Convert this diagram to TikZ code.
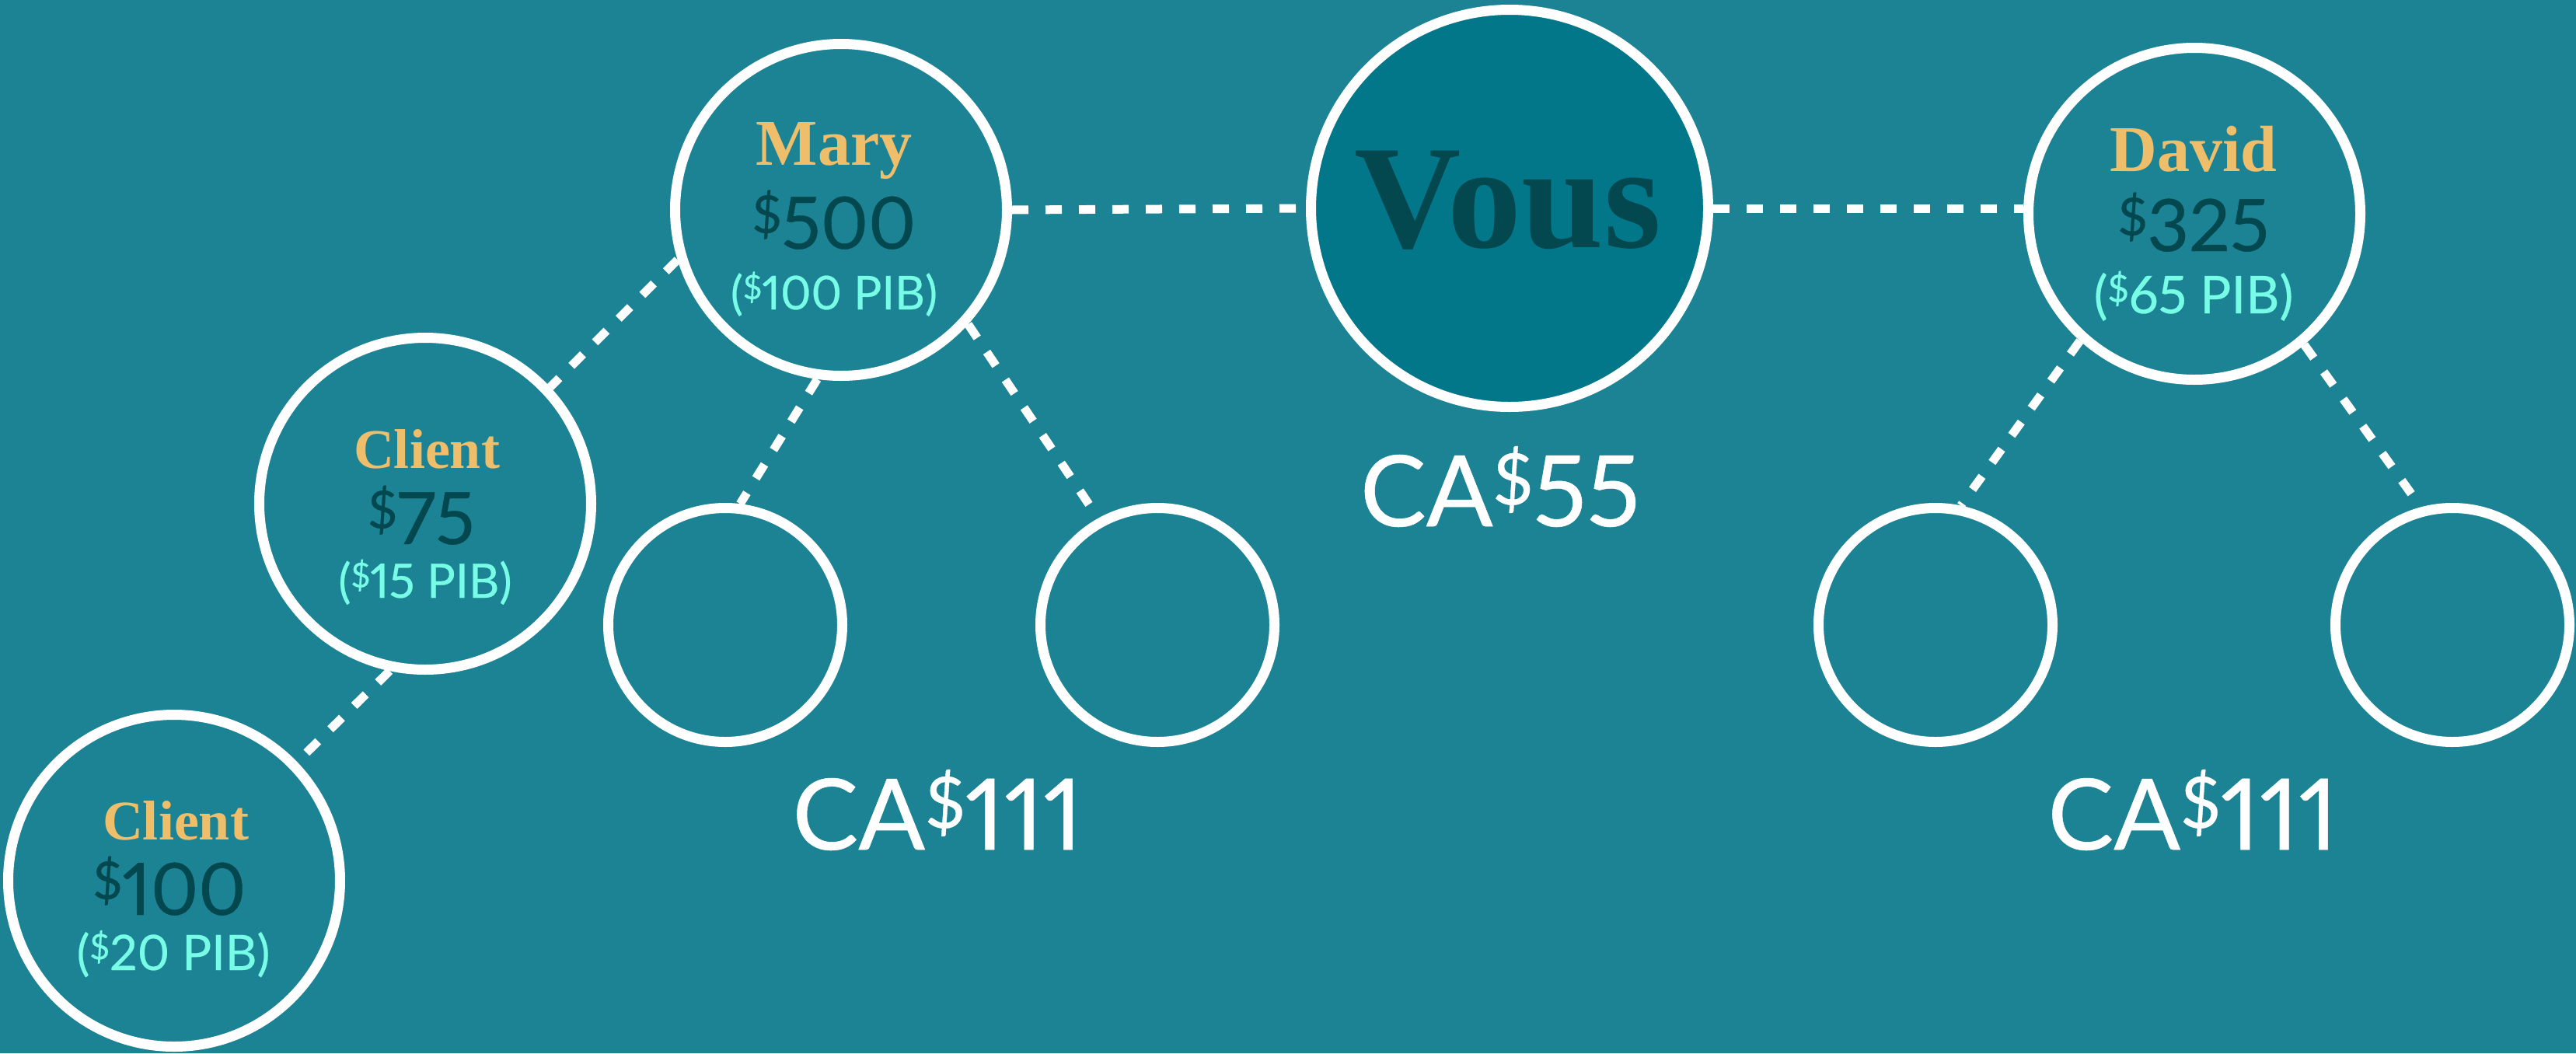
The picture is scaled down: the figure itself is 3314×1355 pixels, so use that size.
\documentclass[tikz,border=0pt]{standalone}
\usepackage{fontspec}
\newfontfamily\namefont{Liberation Serif}
\newfontfamily\numfont[Numbers=Proportional, FakeBold=0.4]{Lato}
\definecolor{bg}{HTML}{1C8395}
\definecolor{vousfill}{HTML}{03778A}
\definecolor{gold}{HTML}{EEBE6B}
\definecolor{darknum}{HTML}{03474F}
\definecolor{cyanpib}{HTML}{77FCE6}
\newcommand{\sdol}{\raisebox{0.22em}{\scalebox{0.72}{\$}}}
\newcommand{\fsz}[1]{\fontsize{#1}{#1}\selectfont}
\begin{document}
\begin{tikzpicture}[x=1pt,y=-1pt,
  member/.style={circle, draw=white, line width=13pt, minimum size=427pt, inner sep=0pt},
  vousbox/.style={member, fill=vousfill, minimum size=511pt},
  slot/.style={member, minimum size=301pt},
  link/.style={draw=white, line width=11pt, dash pattern=on 21pt off 22pt},
  nm/.style={anchor=base, inner sep=0pt, text=gold, font=\namefont\bfseries\fsz{84pt}},
  nmsmall/.style={nm, font=\namefont\bfseries\fsz{72pt}},
  amt/.style={anchor=base, inner sep=0pt, text=darknum, font=\numfont\fsz{93pt}},
  pib/.style={anchor=base, inner sep=0pt, text=cyanpib, font=\numfont\fsz{#1}},
  pib/.default={62pt},
  total/.style={anchor=base, inner sep=0pt, text=white, font=\numfont\fsz{127pt}},
]
\fill[bg] (0,0) rectangle (3314,1355);
\useasboundingbox (0,0) rectangle (3314,1355);

% circles
\node[member] (mary) at (1082,270) {};
\node[vousbox] (vous) at (1942,268) {};
\node[member] (david) at (2823,275) {};
\node[member] (cli1) at (547,648) {};
\node[member] (cli2) at (224,1133) {};
\node[slot] (s1) at (933,804) {};
\node[slot] (s2) at (1489,804) {};
\node[slot] (s3) at (2490,804) {};
\node[slot] (s4) at (3155,804) {};

% connectors
\draw[link] (mary.east) -- (vous.west);
\draw[link] (vous.east) -- (vous.east -| david.west);
\draw[link] (mary.197) -- (cli1.43);
\draw[link] (cli1.258) -- (cli2.44);
\draw[link] (mary.262) -- (s1.83);
\draw[link] (mary.318) -- (s2.119);
\draw[link] (david.228) -- (s3.78);
\draw[link] (david.310) -- (s4.105);

% texts
\node[anchor=base, inner sep=0pt, text=darknum, font=\namefont\bfseries\fsz{190pt}] (vousText) at (1940,318) {Vous};

\node[nm] (maryName) at (1073,212) {Mary};
\node[amt] (maryAmt) at (1073,320) {\sdol500};
\node[pib=60pt] (maryPib) at (1073,398) {(\sdol100 PIB)};

\node[nm] (davidName) at (2822,220) {David};
\node[amt] (davidAmt) at (2822,323) {\sdol325};
\node[pib=67pt] (davidPib) at (2822,403) {(\sdol65 PIB)};

\node[nmsmall] (cli1Name) at (549,602) {Client};
\node[amt] (cli1Amt) at (542,700) {\sdol75};
\node[pib=61pt] (cli1Pib) at (547,769) {(\sdol15 PIB)};

\node[nmsmall] (cli2Name) at (226,1080) {Client};
\node[amt] (cli2Amt) at (218,1177) {\sdol100};
\node[pib=63pt] (cli2Pib) at (223,1248) {(\sdol20 PIB)};

\node[total] (totVous) at (1930,677) {CA\sdol55};
\node[total] (totMary) at (1206,1093) {CA\sdol111};
\node[total] (totDavid) at (2821,1093) {CA\sdol111};
\end{tikzpicture}
\end{document}
